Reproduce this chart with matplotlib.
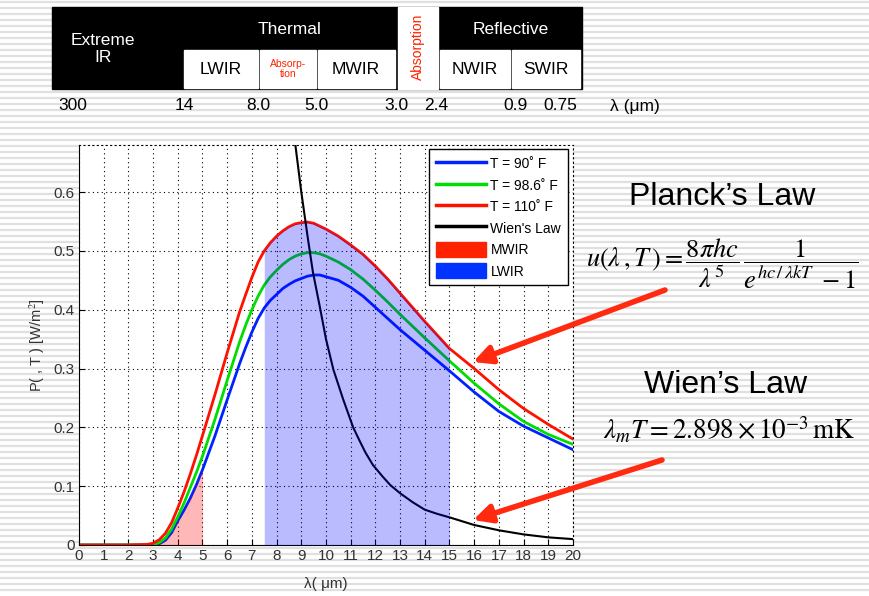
import numpy as np
import matplotlib.pyplot as plt
from matplotlib.patches import Rectangle, Patch, FancyArrowPatch
from matplotlib.lines import Line2D

plt.rcParams['font.family'] = ['Liberation Sans', 'DejaVu Sans']
plt.rcParams['mathtext.fontset'] = 'stix'

# wavelength samples (um) and curves
lam = [0, 1, 2, 2.75, 3, 3.25, 3.5, 3.75, 4, 4.25, 4.5, 4.75, 5, 5.5, 6, 6.5, 6.75,
       7, 7.25, 7.5, 7.75, 8, 8.25, 8.5, 8.75, 9, 9.25, 9.5, 9.75, 10, 10.5, 11,
       11.5, 12, 12.5, 13, 14, 15, 16, 17, 18, 19, 20]
p90 = [0, 0, 0, 0, 0, 0.002, 0.008, 0.021, 0.041, 0.059, 0.079, 0.102, 0.128, 0.185,
       0.247, 0.308, 0.336, 0.362, 0.385, 0.403, 0.416, 0.426, 0.436, 0.443, 0.449,
       0.453, 0.457, 0.459, 0.459, 0.456, 0.45, 0.438, 0.423, 0.404, 0.385, 0.366,
       0.331, 0.296, 0.26, 0.227, 0.202, 0.182, 0.162]
p986 = [0, 0, 0, 0, 0, 0.004, 0.012, 0.027, 0.048, 0.071, 0.097, 0.123, 0.151, 0.213,
        0.28, 0.345, 0.374, 0.4, 0.423, 0.442, 0.456, 0.467, 0.477, 0.485, 0.491,
        0.495, 0.497, 0.497, 0.495, 0.491, 0.481, 0.468, 0.452, 0.433, 0.413, 0.392,
        0.352, 0.313, 0.275, 0.24, 0.21, 0.188, 0.171]
p110 = [0, 0, 0, 0.001, 0.003, 0.009, 0.02, 0.038, 0.063, 0.09, 0.12, 0.152, 0.186,
        0.255, 0.327, 0.396, 0.426, 0.455, 0.481, 0.5, 0.514, 0.525, 0.534, 0.541,
        0.546, 0.548, 0.549, 0.547, 0.542, 0.537, 0.525, 0.51, 0.494, 0.474, 0.452,
        0.428, 0.38, 0.334, 0.3, 0.264, 0.232, 0.205, 0.18]
wien_lam = [8.7, 9.0, 9.27, 9.47, 9.74, 10.0, 10.3, 10.7, 11.1, 11.35, 11.6, 11.9,
            12.3, 12.6, 13.0, 13.5, 14.0, 14.5, 15, 16, 17, 18, 19, 20]
wien_val = [0.70, 0.6, 0.52, 0.464, 0.407, 0.35, 0.298, 0.247, 0.2, 0.178, 0.157,
            0.136, 0.116, 0.102, 0.088, 0.073, 0.06, 0.053, 0.047, 0.034, 0.025,
            0.018, 0.013, 0.01]
mwir_band = [3, 5]
lwir_band = [7.5, 15]
labels = ['T = 90˚ F', 'T = 98.6˚ F', 'T = 110˚ F', "Wien's Law", 'MWIR', 'LWIR']
xticks = list(range(0, 21))
yticks = [0, 0.1, 0.2, 0.3, 0.4, 0.5, 0.6]
edge_labels = ['300', '14', '8.0', '5.0', '3.0', '2.4', '0.9', '0.75']
edge_x = [73, 184, 258, 316, 396, 436, 516, 560]

fig = plt.figure(figsize=(8.7, 5.96), dpi=100)

# striped slide background
bg = fig.add_axes([0, 0, 1, 1], zorder=-10)
bg.set_xlim(0, 870)
bg.set_ylim(596, 0)
bg.axis('off')
for yy in np.arange(2, 596, 6):
    bg.axhline(yy, color='#e0e0e0', lw=1.6)

ax = fig.add_axes([79 / 870, 51 / 596, 494 / 870, 400 / 596])
ax.set_facecolor('white')
lam_a = np.array(lam)
ax.plot(lam, p90, color='#0022ff', lw=2)
ax.plot(lam, p986, color='#00dd00', lw=2)
ax.plot(lam, p110, color='#ff1100', lw=2)
ax.plot(wien_lam, wien_val, color='black', lw=1.5)
m = (lam_a >= mwir_band[0]) & (lam_a <= mwir_band[1])
ax.fill_between(lam_a[m], 0, np.array(p90)[m], color='red', alpha=0.28, lw=0, zorder=3)
m = (lam_a >= lwir_band[0]) & (lam_a <= lwir_band[1])
ax.fill_between(lam_a[m], 0, np.array(p110)[m], color='blue', alpha=0.27, lw=0, zorder=3)

ax.set_xlim(0, 20)
ax.set_ylim(0, 0.68)
ax.set_xticks(xticks)
ax.set_yticks(yticks)
ax.set_yticklabels(['0', '0.1', '0.2', '0.3', '0.4', '0.5', '0.6'])
ax.tick_params(direction='in', length=4, labelsize=11, labelcolor='#333333', pad=3)
ax.grid(True, color='black', ls=(0, (1, 3)), lw=0.8)
for s in ['top', 'right']:
    ax.spines[s].set_linestyle((0, (1, 3)))
ax.set_xlabel('λ( μm)', fontsize=11, color='#333333', labelpad=10)
ax.set_ylabel('P( , T ) [W/m$^2$]', fontsize=10.5, color='#333333', labelpad=5)

handles = [Line2D([], [], color='#0022ff', lw=2.5),
           Line2D([], [], color='#00dd00', lw=2.5),
           Line2D([], [], color='#ff1100', lw=2.5),
           Line2D([], [], color='black', lw=2.5),
           Patch(color='#ff2200'), Patch(color='#0033ff')]
leg = ax.legend(handles, labels, loc='upper right', bbox_to_anchor=(0.99, 0.99),
                fontsize=10, handlelength=3.6, handleheight=1.3, labelspacing=0.45,
                handletextpad=0.3, borderpad=0.5, borderaxespad=0, fancybox=False,
                framealpha=1)
leg.get_frame().set_edgecolor('black')

# overlay in pixel coordinates for the band table, text and arrows
ov = fig.add_axes([0, 0, 1, 1], zorder=10)
ov.set_xlim(0, 870)
ov.set_ylim(596, 0)
ov.axis('off')
ov.add_patch(Rectangle((52, 7), 530, 82, color='black'))
for x0, y0, w, h in [(184, 50, 74, 38), (260, 50, 56, 38), (318, 50, 77, 38),
                     (398, 7, 40, 82), (440, 50, 70, 38), (512, 50, 68, 38)]:
    ov.add_patch(Rectangle((x0, y0), w, h, color='white'))
ov.text(103, 49, 'Extreme\nIR', color='white', ha='center', va='center', fontsize=12.5,
        linespacing=1.15)
ov.text(290, 29, 'Thermal', color='white', ha='center', va='center', fontsize=12.5)
ov.text(511, 29, 'Reflective', color='white', ha='center', va='center', fontsize=12.5)
for x, t in [(221, 'LWIR'), (356, 'MWIR'), (475, 'NWIR'), (546, 'SWIR')]:
    ov.text(x, 70, t, color='black', ha='center', va='center', fontsize=12.5)
ov.text(288, 69, 'Absorp-\ntion', color='#ff2200', ha='center', va='center',
        fontsize=7.5, linespacing=1.0)
ov.text(418, 47, 'Absorption', color='#ff2200', ha='center', va='center',
        fontsize=10, rotation=90)
for x, t in zip(edge_x, edge_labels):
    ov.text(x, 106, t, color='black', ha='center', va='center', fontsize=12.5)
ov.text(635, 106, 'λ (μm)', color='black', ha='center', va='center', fontsize=12.5)

ov.text(722, 197, 'Planck’s Law', ha='center', va='center', fontsize=23)
ov.text(722, 264, r'$u(\lambda\, ,T\,) = \dfrac{8\pi hc}{\lambda^5}\,\dfrac{1}{e^{hc\,/\,\lambda kT}\;-1}$',
        ha='center', va='center', fontsize=19)
ov.text(726, 385, 'Wien’s Law', ha='center', va='center', fontsize=23)
ov.text(729, 430, r'$\lambda_m T = 2.898\times 10^{-3}\,\mathrm{mK}$',
        ha='center', va='center', fontsize=19.5)

for tail, head in [((665, 290), (473, 362)), ((662, 460), (473, 520))]:
    ov.add_patch(FancyArrowPatch(tail, head, arrowstyle='-|>', mutation_scale=27,
                                 color='#ff2a10', lw=4, shrinkA=0, shrinkB=0))

fig.savefig('out.png', dpi=100)
